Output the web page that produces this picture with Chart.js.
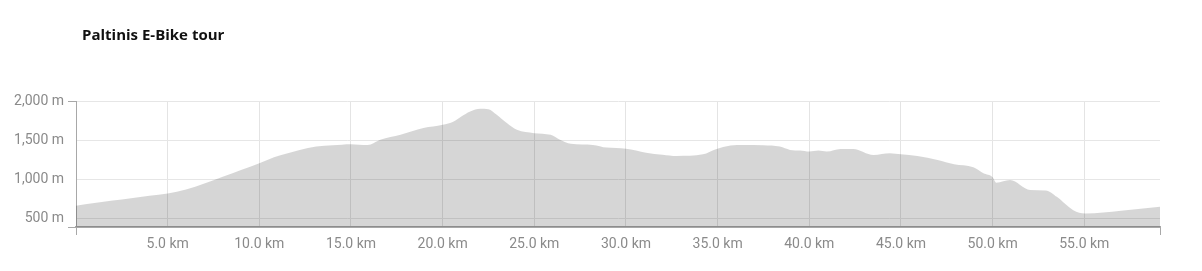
<!DOCTYPE html>
<html>
<head>
<meta charset="utf-8">
<script src="https://cdn.jsdelivr.net/npm/chart.js@4"></script>
<style>
	body {margin:0;background:#fff;}
	#wrap {position:relative;width:1202px;height:271px;}
	#title {position:absolute;left:82px;top:24px;font:bold 15px "Open Sans", sans-serif;color:#111;}
</style>
</head>
<body>
<div id="wrap">
	<div id="title">Paltinis E-Bike tour</div>
	<canvas id="profile" width="1202" height="271"></canvas>
</div>
<script>
// distance along the tour (km) and elevation (m)
const distanceKm = [0, 1, 2, 3, 4, 5, 6, 7, 8, 9, 10, 10.8, 11.5, 12.2, 13.1, 14, 15, 15.9, 16.6, 17.7,
	18.95, 20, 20.6, 21, 21.5, 22.05, 22.5, 22.95, 23.5, 24.05, 25, 25.9, 26.4, 27, 28.2, 28.95, 30,
	31.1, 32, 32.77, 34.2, 34.9, 35.7, 36.4, 37.5, 38.4, 38.95, 39.5, 40, 40.5, 40.95, 41.7, 42.4,
	43.5, 44.4, 45, 45.9, 47, 47.9, 48.95, 49.5, 50, 50.2, 50.95, 52.05, 52.9, 53.5, 54.4, 55.05, 57, 59.13]
const elevationM = [662, 697, 730, 760, 790, 820, 872, 948, 1033, 1119, 1205, 1282, 1330, 1376, 1418, 1435, 1449, 1437, 1504, 1568,
	1654, 1696, 1739, 1800, 1867, 1901, 1895, 1824, 1718, 1632, 1590, 1568, 1504, 1453, 1440, 1405, 1392,
	1341, 1315, 1299, 1320, 1385, 1431, 1440, 1435, 1418, 1376, 1367, 1354, 1367, 1354, 1389, 1389,
	1312, 1333, 1320, 1299, 1247, 1192, 1154, 1077, 1026, 956, 991, 863, 859, 777, 606, 564, 600, 649]
const elevationTicks = [392, 500, 1000, 1500, 2000]
const tourLengthKm = 59.13

const points = distanceKm.map((d, i) => ({x: d, y: elevationM[i]}))

const axisFont = {family: 'Roboto, sans-serif', size: 14}
const labelColor = '#8a8a8a'

const ctx = document.getElementById('profile').getContext('2d')
new Chart(ctx, {
	type: 'line',
	data: {
		datasets: [
			{
				data: points,
				fill: 'start',
				backgroundColor: 'rgba(0,0,0,0.16)',
				borderWidth: 0,
				pointRadius: 0,
				cubicInterpolationMode: 'monotone',
			},
		],
	},
	options: {
		responsive: false,
		animation: false,
		events: [],
		layout: {
			padding: {left: 0, right: 42, top: 101, bottom: 0},
		},
		plugins: {
			legend: {display: false},
			tooltip: {enabled: false},
		},
		scales: {
			x: {
				type: 'linear',
				min: 0,
				max: tourLengthKm,
				afterBuildTicks: (scale) => {
					const t = []
					for (let v = 0; v < tourLengthKm; v += 5) t.push({value: v})
					t.push({value: tourLengthKm})
					scale.ticks = t
				},
				afterFit: (scale) => { scale.height = 44 },
				border: {color: '#a8a8a8', width: 2},
				grid: {
					color: (c) => (c.index === 0 || c.tick.value === tourLengthKm) ? 'rgba(0,0,0,0)' : '#e4e4e4',
					tickColor: (c) => (c.index === 0 || c.tick.value === tourLengthKm) ? '#a8a8a8' : 'rgba(0,0,0,0)',
					tickLength: 8,
				},
				ticks: {
					color: labelColor,
					font: axisFont,
					padding: 1,
					maxRotation: 0,
					autoSkip: false,
					callback: (v) => (v === 0 || v === tourLengthKm) ? '' : v.toFixed(1) + ' km',
				},
			},
			y: {
				min: elevationTicks[0],
				max: 2000,
				afterBuildTicks: (scale) => {
					scale.ticks = elevationTicks.map((v) => ({value: v}))
				},
				afterFit: (scale) => { scale.width = 76 },
				border: {color: '#a8a8a8', width: 1},
				grid: {
					color: (c) => c.index === 0 ? 'rgba(0,0,0,0)' : '#e6e6e6',
					tickColor: (c) => (c.index === 0 || c.tick.value === 2000) ? '#a8a8a8' : 'rgba(0,0,0,0)',
					tickLength: 8,
				},
				ticks: {
					color: labelColor,
					font: axisFont,
					padding: 4,
					callback: (v) => v === elevationTicks[0] ? '' : v.toLocaleString('en-US') + ' m',
				},
			},
		},
	},
})
</script>
</body>
</html>
